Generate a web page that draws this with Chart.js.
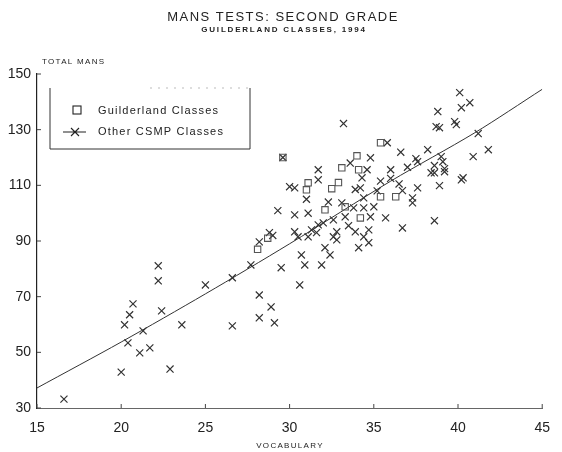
<!DOCTYPE html>
<html>
<head>
<meta charset="utf-8">
<script src="https://cdn.jsdelivr.net/npm/chart.js@4.4.1/dist/chart.umd.min.js"></script>
<style>
    html, body { margin: 0; padding: 0; background: #fff; }
    #grafico { display: block; }
</style>
</head>
<body>
<canvas id="grafico" width="562" height="452"></canvas>
<script>
// Dados
const xTicks = [15, 20, 25, 30, 35, 40, 45];
const yTicks = [30, 50, 70, 90, 110, 130, 150];

// Turmas de Guilderland (quadrados)
const guilderlandX = [29.6, 33.1, 34.1, 35.4, 34.0, 31.1, 32.5, 31.0, 32.1, 33.3, 34.2, 35.4, 36.3, 28.1, 28.7, 32.9];
const guilderlandY = [120.0, 116.3, 115.6, 125.3, 120.6, 110.9, 108.8, 108.4, 101.2, 102.3, 98.3, 105.9, 105.9, 87.0, 91.0, 111.0];

// Outras turmas CSMP (x)
const outrasX = [16.6, 20.0, 22.9, 20.4, 21.1, 21.7, 21.3, 20.2, 20.5, 20.7, 22.4, 23.6, 26.6, 28.2, 28.9, 29.1,
    28.2, 22.2, 22.2, 25.0, 26.6, 27.7, 28.2, 28.8, 29.0, 29.5, 29.3, 30.6, 30.9, 31.9, 30.7, 32.4,
    30.3, 31.1, 30.0, 30.3, 31.7, 31.0, 33.2, 30.3, 30.5, 31.1, 31.3, 31.6, 31.7, 32.6, 32.8, 32.6,
    32.8, 32.1, 33.3, 33.1, 33.8, 34.4, 35.0, 34.8, 35.7, 33.9, 34.4, 34.7, 34.7, 34.1, 36.7, 38.6,
    34.2, 34.4, 34.3, 34.6, 36.0, 37.0, 37.6, 36.6, 35.8, 34.8, 31.7, 33.9, 35.4, 36.0, 37.3, 37.3,
    37.6, 36.7, 38.9, 38.6, 39.2, 40.2, 40.3, 38.4, 39.2, 38.6, 39.0, 39.1, 38.2, 37.5, 40.9, 41.8,
    41.2, 38.7, 38.9, 39.8, 39.9, 38.8, 40.2, 40.7, 40.1, 29.6, 33.5, 32.0, 35.2, 36.5, 32.3, 33.6];
const outrasY = [33.2, 42.9, 44.0, 53.4, 49.8, 51.6, 57.7, 59.9, 63.5, 67.4, 64.9, 59.9, 59.5, 62.4, 66.3, 60.6,
    70.6, 81.1, 75.7, 74.2, 76.8, 81.4, 89.7, 93.0, 92.0, 80.4, 100.9, 74.2, 81.4, 81.4, 85.0, 85.0,
    99.4, 100.0, 109.5, 109.1, 115.6, 105.0, 132.2, 93.3, 91.5, 91.5, 94.0, 93.0, 95.8, 97.6, 93.3, 91.5,
    90.4, 87.6, 98.7, 103.7, 101.9, 101.9, 102.3, 98.7, 98.3, 93.3, 91.5, 94.0, 89.4, 87.6, 94.7, 97.3,
    109.1, 105.5, 112.7, 115.6, 115.6, 116.5, 118.5, 121.9, 125.3, 119.9, 112.0, 108.5, 111.5, 112.5, 105.5, 103.7,
    109.1, 108.1, 109.9, 114.5, 114.9, 112.0, 112.7, 114.5, 116.0, 117.1, 120.3, 118.5, 122.8, 119.6, 120.3, 122.8,
    128.6, 131.1, 130.7, 132.9, 131.8, 136.5, 137.9, 139.7, 143.3, 120.0, 95.5, 96.5, 108.0, 110.5, 104.0, 118.0];

// Reta de tendência
const retaX = [15, 20, 25, 30, 36, 41, 45];
const retaY = [37.2, 53.7, 71.0, 89.0, 111.5, 128.9, 144.5];

const toPontos = (xs, ys) => xs.map((x, i) => ({ x: x, y: ys[i] }));

const corTinta = '#222';
const fonte = '"Liberation Sans", Arial, sans-serif';

// textos, legenda e marcas dos eixos desenhados por cima
const anotacoes = {
    id: 'anotacoes',
    afterDraw(chart) {
        const ctx = chart.ctx;
        const xs = chart.scales.x;
        const ys = chart.scales.y;
        ctx.save();
        ctx.fillStyle = corTinta;
        ctx.textBaseline = 'middle';
        ctx.textAlign = 'center';

        ctx.letterSpacing = '1.5px';
        ctx.font = '13px ' + fonte;
        ctx.fillText('MANS TESTS: SECOND GRADE', 283, 17);
        ctx.letterSpacing = '1.8px';
        ctx.font = 'bold 8px ' + fonte;
        ctx.fillText('GUILDERLAND CLASSES, 1994', 284, 30);

        ctx.letterSpacing = '1.3px';
        ctx.font = '8px ' + fonte;
        ctx.textAlign = 'left';
        ctx.fillText('TOTAL MANS', 42, 62);
        ctx.textAlign = 'center';
        ctx.fillText('VOCABULARY', 290, 446);

        // marcas internas
        ctx.strokeStyle = '#444';
        ctx.lineWidth = 1;
        ctx.beginPath();
        xTicks.forEach(v => {
            const px = xs.getPixelForValue(v);
            ctx.moveTo(px, ys.bottom);
            ctx.lineTo(px, ys.bottom - 4);
        });
        yTicks.forEach(v => {
            const py = ys.getPixelForValue(v);
            ctx.moveTo(xs.left, py);
            ctx.lineTo(xs.left + 4, py);
        });
        ctx.stroke();

        // legenda
        const bx = 50, by = 88, bw = 200, bh = 61;
        ctx.strokeStyle = '#333';
        ctx.beginPath();
        ctx.moveTo(bx, by);
        ctx.lineTo(bx, by + bh);
        ctx.lineTo(bx + bw, by + bh);
        ctx.lineTo(bx + bw, by);
        ctx.stroke();
        ctx.strokeStyle = '#bbb';
        ctx.setLineDash([2, 6]);
        ctx.beginPath();
        ctx.moveTo(bx + 100, by);
        ctx.lineTo(bx + bw, by);
        ctx.stroke();
        ctx.setLineDash([]);

        ctx.strokeStyle = corTinta;
        ctx.lineWidth = 1.1;
        ctx.strokeRect(73, 106, 8, 8);
        ctx.beginPath();
        ctx.moveTo(63, 132); ctx.lineTo(86, 132);
        ctx.moveTo(71, 128); ctx.lineTo(79, 136);
        ctx.moveTo(79, 128); ctx.lineTo(71, 136);
        ctx.stroke();

        ctx.letterSpacing = '1.2px';
        ctx.font = '11px ' + fonte;
        ctx.textAlign = 'left';
        const dsG = chart.data.datasets[0].label;
        const dsO = chart.data.datasets[1].label;
        ctx.fillText(dsG, 98, 111);
        ctx.fillText(dsO, 98, 132);
        ctx.restore();
    }
};

new Chart(document.getElementById('grafico'), {
    type: 'scatter',
    data: {
        datasets: [
            {
                label: 'Guilderland Classes',
                data: toPontos(guilderlandX, guilderlandY),
                pointStyle: 'rect',
                pointRadius: 4.5,
                backgroundColor: 'rgba(0,0,0,0)',
                borderColor: '#555',
                borderWidth: 1.1
            },
            {
                label: 'Other CSMP Classes',
                data: toPontos(outrasX, outrasY),
                pointStyle: 'crossRot',
                pointRadius: 5,
                borderColor: '#333',
                borderWidth: 1.2
            },
            {
                label: 'Reta',
                data: toPontos(retaX, retaY),
                showLine: true,
                pointRadius: 0,
                borderColor: '#333',
                borderWidth: 1,
                tension: 0.3
            }
        ]
    },
    options: {
        responsive: false,
        animation: false,
        layout: { padding: { top: 74, right: 9, left: 0, bottom: 0 } },
        plugins: {
            legend: { display: false },
            tooltip: { enabled: false }
        },
        scales: {
            x: {
                type: 'linear',
                min: 15,
                max: 45,
                afterBuildTicks: s => { s.ticks = xTicks.map(v => ({ value: v })); },
                afterFit: s => { s.height = 44; },
                grid: { display: false, drawTicks: false },
                border: { display: true, color: '#666', width: 1 },
                ticks: { color: corTinta, font: { family: fonte, size: 14 }, padding: 12 }
            },
            y: {
                type: 'linear',
                min: 30,
                max: 150,
                afterBuildTicks: s => { s.ticks = yTicks.map(v => ({ value: v })); },
                afterFit: s => { s.width = 37; },
                grid: { display: false, drawTicks: false },
                border: { display: true, color: '#222', width: 1.2 },
                ticks: { color: corTinta, font: { family: fonte, size: 14 }, padding: 6 }
            }
        }
    },
    plugins: [anotacoes]
});
</script>
</body>
</html>
